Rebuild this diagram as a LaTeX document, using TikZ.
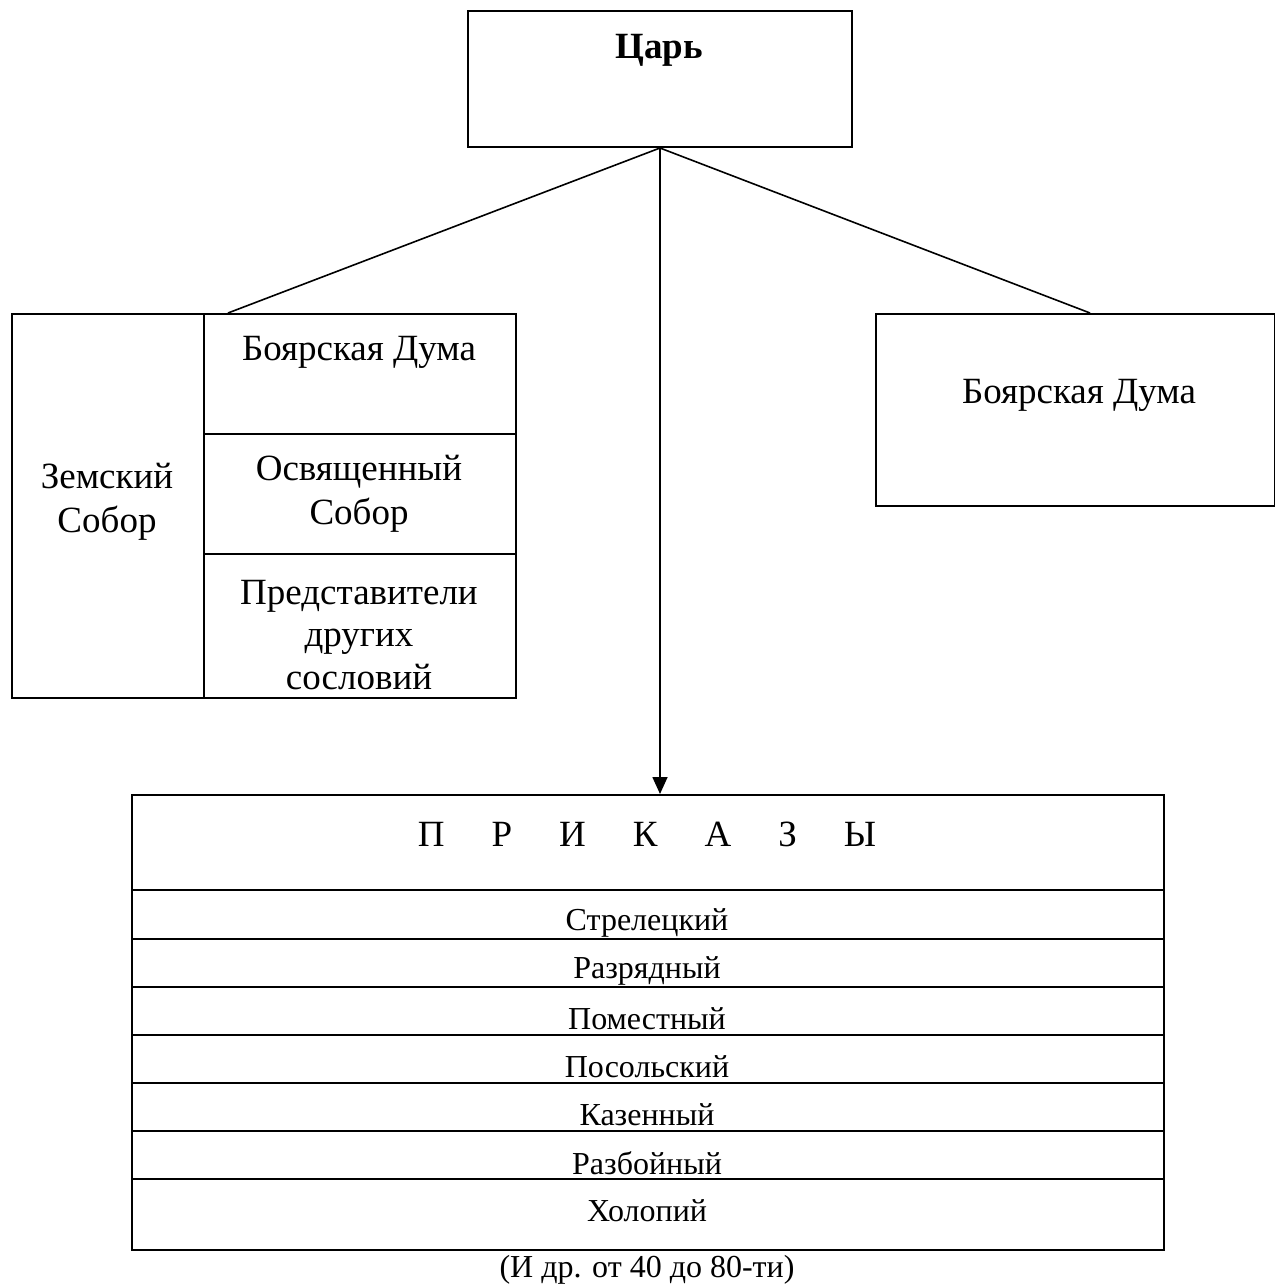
\documentclass[tikz,border=0pt]{standalone}
\usepackage{fontspec}
\setmainfont{Liberation Serif}
\usetikzlibrary{arrows.meta}

\tikzset{
	cell/.style={draw, line width=2pt, inner sep=0pt, anchor=north west},
	big/.style={font=\fontsize{37}{44}\selectfont, align=center, inner sep=0pt},
	small/.style={font=\fontsize{32}{36}\selectfont, inner sep=0pt},
}

\begin{document}
\begin{tikzpicture}[x=1pt,y=-1pt]
	\useasboundingbox (0,0) rectangle (1274,1287);

	% Tsar
	\node [cell, minimum width=384pt, minimum height=136pt] (tsar) at (467,10) {};
	\node [big, font=\fontsize{37}{44}\selectfont\bfseries] (tsartxt) at (659,50) {Царь};

	% Zemsky Sobor block
	\node [cell, minimum width=192pt, minimum height=384pt] (zemsky) at (11,313) {};
	\node [cell, minimum width=312pt, minimum height=120pt] (duma) at (203,313) {};
	\node [cell, minimum width=312pt, minimum height=120pt] (osv) at (203,433) {};
	\node [cell, minimum width=312pt, minimum height=144pt] (pred) at (203,553) {};
	\node [big] (zemskytxt) at (107,502) {Земский\\Собор};
	\node [big] (dumatxt) at (359,352) {Боярская Дума};
	\node [big] (osvtxt) at (359,494) {Освященный\\Собор};
	\node [big, font=\fontsize{37}{42.5}\selectfont] (predtxt) at (359,635) {Представители\\других\\сословий};

	% Boyar Duma on the right
	\node [cell, minimum width=399pt, minimum height=192pt] (rduma) at (875,313) {};
	\node [big] (rdumatxt) at (1079,395) {Боярская Дума};

	% Prikazy
	\node [cell, minimum width=1032pt, minimum height=95pt] (prikazy) at (131,794) {};
	\node [big] (prikazytxt) at (647,834) {П\hspace{47pt}Р\hspace{47pt}И\hspace{47pt}К\hspace{47pt}А\hspace{47pt}З\hspace{47pt}Ы};
	\node [cell, minimum width=1032pt, minimum height=49pt] (r1) at (131,889) {};
	\node [cell, minimum width=1032pt, minimum height=48pt] (r2) at (131,938) {};
	\node [cell, minimum width=1032pt, minimum height=48pt] (r3) at (131,986) {};
	\node [cell, minimum width=1032pt, minimum height=48pt] (r4) at (131,1034) {};
	\node [cell, minimum width=1032pt, minimum height=48pt] (r5) at (131,1082) {};
	\node [cell, minimum width=1032pt, minimum height=48pt] (r6) at (131,1130) {};
	\node [cell, minimum width=1032pt, minimum height=71pt] (r7) at (131,1178) {};
	\foreach \n/\y/\t in {1/923/Стрелецкий, 2/971/Разрядный, 3/1019/Поместный, 4/1067/Посольский, 5/1115/Казенный, 6/1163/Разбойный, 7/1211/Холопий}
		\node [small] (t\n) at (647,\y) {\t};
	\node [small] (note) at (647,1270) {(И др. от 40 до 80-ти)};

	% Connectors
	\coordinate (lend) at (228,313);
	\coordinate (rend) at (1090,313);
	\draw [line width=1.6pt] (tsar.south) -- (lend);
	\draw [line width=1.6pt] (tsar.south) -- (rend);
	\draw [line width=1.6pt, -{Triangle[length=17pt,width=15pt]}] (tsar.south) -- (tsar.south |- prikazy.north);
\end{tikzpicture}
\end{document}
